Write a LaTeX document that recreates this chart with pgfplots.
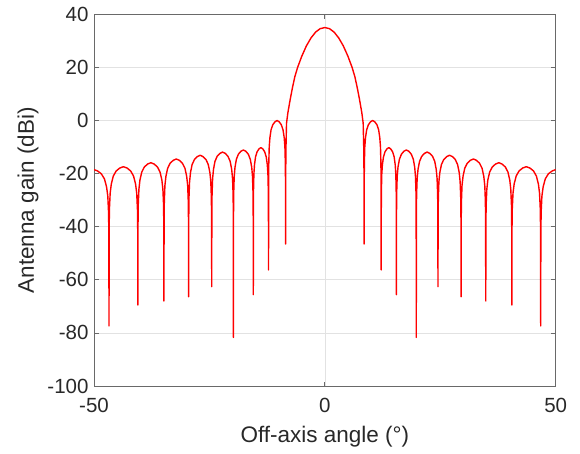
\documentclass[border=0pt]{standalone}
\usepackage{fontspec}
\setmainfont{Liberation Sans}
\usepackage{pgfplots}
\pgfplotsset{compat=1.18}
\definecolor{axisgray}{RGB}{105,105,105}
\definecolor{gridgray}{RGB}{226,226,226}
\definecolor{txtgray}{RGB}{40,40,40}
\begin{document}
\begin{tikzpicture}[x=1pt,y=1pt]
\begin{axis}[
  at={(94pt,67pt)}, anchor=south west,
  width=461.7pt, height=371.7pt, scale only axis,
  xmin=-50, xmax=50, ymin=-100, ymax=40,
  xtick={-50,0,50}, xticklabels={-50,0,50},
  ytick={-100,-80,...,40},
  yticklabels={-100,-80,-60,-40,-20,0,20,40},
  tick align=inside, major tick length=4.5pt,
  grid=major, major grid style={gridgray, line width=0.7pt},
  axis line style={axisgray, line width=1pt},
  tick style={axisgray, line width=0.8pt},
  ticklabel style={font=\fontsize{20.5}{24}\selectfont, text=txtgray},
  xticklabel style={yshift=-9pt},
  yticklabel style={xshift=-2pt},
  label style={font=\fontsize{22.5}{27}\selectfont, text=txtgray},
  xlabel={Off-axis angle (°)},
  ylabel={Antenna gain (dBi)},
  xlabel style={at={(axis description cs:0.5,-0.137)}, anchor=center},
  ylabel style={at={(axis description cs:-0.143,0.5)}, anchor=center},
]
% gain pattern, dBi versus off-axis angle in degrees
\addplot[red, line width=1.4pt, line join=round, mark=none] coordinates {
(-50,-18.5) (-49.23,-19.0) (-48.40,-20.1) (-47.74,-22.0) (-47.28,-25.0) (-47.01,-28.5) (-46.85,-34.5) (-46.78,-42.5)
(-46.75,-77.4)
(-46.72,-41.4) (-46.66,-33.4) (-46.5,-27.4) (-46.25,-23.9) (-45.81,-20.9) (-45.19,-19.0) (-44.41,-17.9) (-43.63,-17.4)
(-42.84,-17.9) (-42.06,-19.0) (-41.44,-20.9) (-41.0,-23.9) (-40.75,-27.4) (-40.59,-33.4) (-40.53,-41.4)
(-40.5,-69.5)
(-40.47,-39.9) (-40.42,-31.9) (-40.27,-25.9) (-40.05,-22.4) (-39.65,-19.4) (-39.09,-17.5) (-38.38,-16.4) (-37.68,-15.9)
(-36.97,-16.4) (-36.26,-17.5) (-35.70,-19.4) (-35.30,-22.4) (-35.08,-25.9) (-34.93,-31.9) (-34.88,-39.9)
(-34.85,-68.0)
(-34.82,-38.5) (-34.77,-30.5) (-34.64,-24.5) (-34.42,-21.0) (-34.05,-18.0) (-33.51,-16.1) (-32.84,-15.0) (-32.18,-14.5)
(-31.51,-15.0) (-30.84,-16.1) (-30.30,-18.0) (-29.93,-21.0) (-29.71,-24.5) (-29.58,-30.5) (-29.53,-38.5)
(-29.5,-66.4)
(-29.48,-37.1) (-29.43,-29.1) (-29.30,-23.1) (-29.10,-19.6) (-28.75,-16.6) (-28.25,-14.7) (-27.63,-13.6) (-27.0,-13.1)
(-26.38,-13.6) (-25.75,-14.7) (-25.25,-16.6) (-24.90,-19.6) (-24.70,-23.1) (-24.58,-29.1) (-24.53,-37.1)
(-24.5,-62.6)
(-24.48,-35.9) (-24.43,-27.9) (-24.31,-21.9) (-24.12,-18.4) (-23.80,-15.4) (-23.33,-13.5) (-22.74,-12.4) (-22.15,-11.9)
(-21.56,-12.4) (-20.98,-13.5) (-20.51,-15.4) (-20.18,-18.4) (-19.99,-21.9) (-19.87,-27.9) (-19.82,-35.9)
(-19.8,-81.7)
(-19.78,-35.1) (-19.74,-27.1) (-19.63,-21.1) (-19.46,-17.6) (-19.16,-14.6) (-18.73,-12.7) (-18.19,-11.6) (-17.65,-11.1)
(-17.11,-11.6) (-16.58,-12.7) (-16.15,-14.6) (-15.84,-17.6) (-15.67,-21.1) (-15.56,-27.1) (-15.52,-35.1)
(-15.5,-65.6)
(-15.48,-34.2) (-15.45,-26.2) (-15.37,-20.2) (-15.24,-16.7) (-15.01,-13.7) (-14.68,-11.8) (-14.26,-10.7) (-13.85,-10.2)
(-13.44,-10.7) (-13.03,-11.8) (-12.70,-13.7) (-12.46,-16.7) (-12.33,-20.2) (-12.25,-26.2) (-12.22,-34.2)
(-12.2,-56.3)
(-12.18,-24.0) (-12.14,-16.0) (-12.05,-10.0) (-11.90,-6.5) (-11.65,-3.5) (-11.28,-1.6) (-10.81,-0.5) (-10.35,0)
(-9.89,-0.5) (-9.43,-1.6) (-9.06,-3.5) (-8.80,-6.5) (-8.65,-10.0) (-8.56,-16.0) (-8.52,-24.0)
(-8.5,-46.5)
(-8.48,-20) (-8.42,-10) (-8.3,-1) (-8,3) (-7.5,8) (-7,12.5) (-6.5,16.5) (-5.9,20)
(-5,24.2) (-4,28.1) (-3,31.1) (-2,33.3) (-1,34.6)
(0,35)
(1,34.6) (2,33.3) (3,31.1) (4,28.1) (5,24.2)
(5.9,20) (6.5,16.5) (7,12.5) (7.5,8) (8,3) (8.3,-1) (8.42,-10) (8.48,-20)
(8.5,-46.5)
(8.52,-24.0) (8.56,-16.0) (8.65,-10.0) (8.80,-6.5) (9.06,-3.5) (9.43,-1.6) (9.89,-0.5) (10.35,0)
(10.81,-0.5) (11.28,-1.6) (11.65,-3.5) (11.90,-6.5) (12.05,-10.0) (12.14,-16.0) (12.18,-24.0)
(12.2,-56.3)
(12.22,-34.2) (12.25,-26.2) (12.33,-20.2) (12.46,-16.7) (12.70,-13.7) (13.03,-11.8) (13.44,-10.7) (13.85,-10.2)
(14.26,-10.7) (14.68,-11.8) (15.01,-13.7) (15.24,-16.7) (15.37,-20.2) (15.45,-26.2) (15.48,-34.2)
(15.5,-65.6)
(15.52,-35.1) (15.56,-27.1) (15.67,-21.1) (15.84,-17.6) (16.15,-14.6) (16.58,-12.7) (17.11,-11.6) (17.65,-11.1)
(18.19,-11.6) (18.73,-12.7) (19.16,-14.6) (19.46,-17.6) (19.63,-21.1) (19.74,-27.1) (19.78,-35.1)
(19.8,-81.7)
(19.82,-35.9) (19.87,-27.9) (19.99,-21.9) (20.18,-18.4) (20.51,-15.4) (20.98,-13.5) (21.56,-12.4) (22.15,-11.9)
(22.74,-12.4) (23.33,-13.5) (23.80,-15.4) (24.12,-18.4) (24.31,-21.9) (24.43,-27.9) (24.48,-35.9)
(24.5,-62.6)
(24.53,-37.1) (24.58,-29.1) (24.70,-23.1) (24.90,-19.6) (25.25,-16.6) (25.75,-14.7) (26.38,-13.6) (27.0,-13.1)
(27.63,-13.6) (28.25,-14.7) (28.75,-16.6) (29.10,-19.6) (29.30,-23.1) (29.43,-29.1) (29.48,-37.1)
(29.5,-66.4)
(29.53,-38.5) (29.58,-30.5) (29.71,-24.5) (29.93,-21.0) (30.30,-18.0) (30.84,-16.1) (31.51,-15.0) (32.18,-14.5)
(32.84,-15.0) (33.51,-16.1) (34.05,-18.0) (34.42,-21.0) (34.64,-24.5) (34.77,-30.5) (34.82,-38.5)
(34.85,-68.0)
(34.88,-39.9) (34.93,-31.9) (35.08,-25.9) (35.30,-22.4) (35.70,-19.4) (36.26,-17.5) (36.97,-16.4) (37.68,-15.9)
(38.38,-16.4) (39.09,-17.5) (39.65,-19.4) (40.05,-22.4) (40.27,-25.9) (40.42,-31.9) (40.47,-39.9)
(40.5,-69.5)
(40.53,-41.4) (40.59,-33.4) (40.75,-27.4) (41.0,-23.9) (41.44,-20.9) (42.06,-19.0) (42.84,-17.9) (43.63,-17.4)
(44.41,-17.9) (45.19,-19.0) (45.81,-20.9) (46.25,-23.9) (46.5,-27.4) (46.66,-33.4) (46.72,-41.4)
(46.75,-77.4)
(46.78,-42.5) (46.85,-34.5) (47.01,-28.5) (47.28,-25.0) (47.74,-22.0) (48.40,-20.1) (49.23,-19.0) (50,-18.5)
};
\end{axis}
% page frame: 580 x 453 with the axis box at (94,67)-(555.7,438.7)
\pgfresetboundingbox
\path (0pt,0pt) rectangle (580pt,453pt);
\end{tikzpicture}
\end{document}
